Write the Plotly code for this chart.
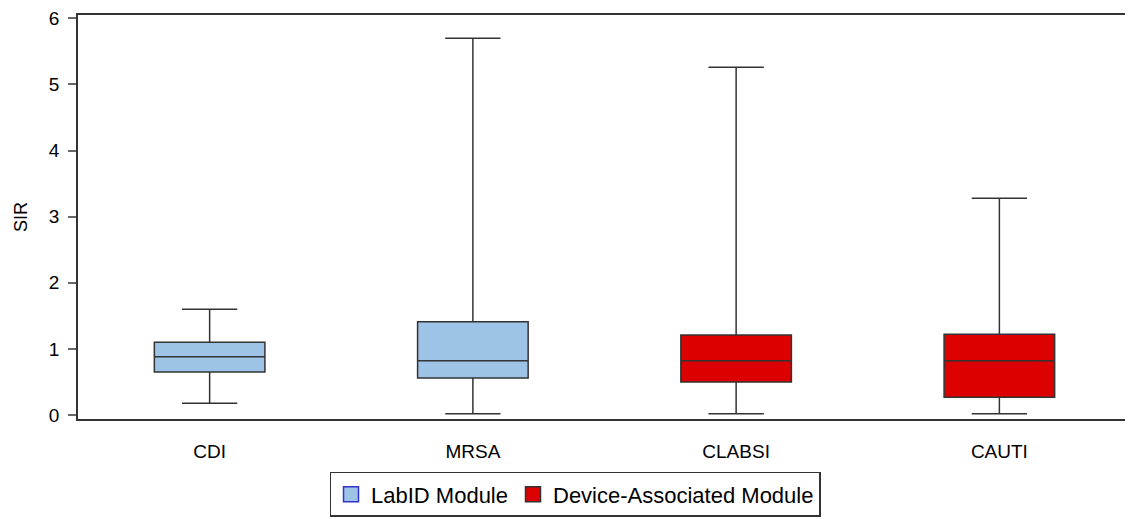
import plotly.graph_objects as go

categories = ["CDI", "MRSA", "CLABSI", "CAUTI"]
groups = ["LabID Module", "LabID Module", "Device-Associated Module", "Device-Associated Module"]
lower = [0.18, 0.02, 0.02, 0.02]
q1 = [0.65, 0.56, 0.50, 0.27]
median = [0.88, 0.82, 0.82, 0.82]
q3 = [1.10, 1.41, 1.21, 1.22]
upper = [1.60, 5.70, 5.26, 3.28]

group_names = ["LabID Module", "Device-Associated Module"]
fill_colors = {"LabID Module": "#9DC3E6", "Device-Associated Module": "#DD0000"}
legend_border = {"LabID Module": "#3333CC", "Device-Associated Module": "#333333"}

fig = go.Figure()
for g in group_names:
    idx = [i for i, gg in enumerate(groups) if gg == g]
    fig.add_trace(go.Box(
        x=[categories[i] for i in idx],
        q1=[q1[i] for i in idx],
        median=[median[i] for i in idx],
        q3=[q3[i] for i in idx],
        lowerfence=[lower[i] for i in idx],
        upperfence=[upper[i] for i in idx],
        name=g,
        fillcolor=fill_colors[g],
        line=dict(color="#333333", width=1.5),
        whiskerwidth=0.5,
        width=0.42,
        boxpoints=False,
        showlegend=False,
        hoverinfo="skip",
    ))
    fig.add_trace(go.Scatter(
        x=[None], y=[None], mode="markers", name=g,
        marker=dict(symbol="square", size=15, color=fill_colors[g],
                    line=dict(color=legend_border[g], width=1.5)),
        showlegend=True,
    ))

fig.update_layout(
    width=1125, height=511,
    margin=dict(l=70, r=2, t=7, b=100, autoexpand=False),
    plot_bgcolor="white", paper_bgcolor="white",
    boxmode="overlay",
    font=dict(family="Liberation Sans, Arial, sans-serif", size=19, color="#000000"),
    xaxis=dict(
        categoryorder="array", categoryarray=categories,
        range=[-0.5, 3.5],
        showline=True, linecolor="#333333", linewidth=1.5, mirror=True,
        ticks="", showgrid=False, zeroline=False,
        tickfont=dict(size=19),
        ticklabelstandoff=14,
    ),
    yaxis=dict(
        range=[-0.06, 6.05],
        tickvals=[0, 1, 2, 3, 4, 5, 6],
        showline=True, linecolor="#333333", linewidth=1.5, mirror=True,
        ticks="outside", ticklen=8, tickcolor="#666666", tickwidth=1.5,
        showgrid=False, zeroline=False,
        title=dict(text="SIR", font=dict(size=18), standoff=17),
        tickfont=dict(size=19),
        ticklabelstandoff=5,
        ticklabeloverflow="allow",
    ),
    legend=dict(
        orientation="h", x=0.472, xanchor="center",
        yref="container", y=0.004, yanchor="bottom",
        bordercolor="#333333", borderwidth=1.5,
        font=dict(size=22), itemsizing="trace",
        itemwidth=30, tracegroupgap=0,
    ),
)

fig.write_html("out.html")
